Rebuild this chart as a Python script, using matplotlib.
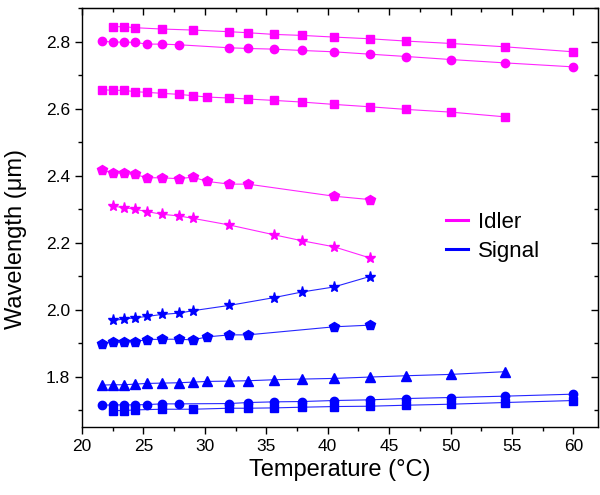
import matplotlib
matplotlib.use("Agg")
import matplotlib.pyplot as plt
from matplotlib.lines import Line2D
from matplotlib.ticker import MultipleLocator

plt.rcParams['font.family'] = ['Liberation Sans', 'DejaVu Sans']

PINK = "#ff00ff"
BLUE = "#0000ff"

# temperatures (deg C) for each curve
t_sq = [22.5, 23.4, 24.3, 26.5, 29.0, 32.0, 33.5, 35.6, 37.9, 40.5, 43.4, 46.4, 50.0, 54.4, 60.0]
t_ci = [21.6, 22.5, 23.4, 24.3, 25.3, 26.5, 27.9, 32.0, 33.5, 35.6, 37.9, 40.5, 43.4, 46.4, 50.0, 54.4, 60.0]
t_sq2 = [21.6, 22.5, 23.4, 24.3, 25.3, 26.5, 27.9, 29.0, 30.2, 32.0, 33.5, 35.6, 37.9, 40.5, 43.4, 46.4, 50.0, 54.4]
t_pent = [21.6, 22.5, 23.4, 24.3, 25.3, 26.5, 27.9, 29.0, 30.2, 32.0, 33.5, 40.5, 43.4]
t_star = [22.5, 23.4, 24.3, 25.3, 26.5, 27.9, 29.0, 32.0, 35.6, 37.9, 40.5, 43.4]

# idler wavelengths (um)
idl_sq = [2.845, 2.845, 2.842, 2.838, 2.835, 2.830, 2.827, 2.822, 2.819, 2.814, 2.809, 2.802, 2.795, 2.785, 2.770]
idl_ci = [2.802, 2.799, 2.799, 2.798, 2.793, 2.793, 2.791, 2.782, 2.780, 2.778, 2.774, 2.770, 2.763, 2.756, 2.747, 2.737, 2.725]
idl_sq2 = [2.657, 2.655, 2.655, 2.651, 2.649, 2.646, 2.643, 2.639, 2.635, 2.632, 2.629, 2.625, 2.620, 2.613, 2.606, 2.598, 2.590, 2.576]
idl_pent = [2.416, 2.409, 2.407, 2.404, 2.394, 2.394, 2.391, 2.396, 2.383, 2.375, 2.375, 2.339, 2.329]
idl_star = [2.309, 2.305, 2.300, 2.293, 2.285, 2.280, 2.273, 2.253, 2.224, 2.206, 2.188, 2.155]

# signal wavelengths (um)
sig_star = [1.968, 1.972, 1.976, 1.980, 1.986, 1.990, 1.997, 2.013, 2.036, 2.053, 2.068, 2.099]
sig_pent = [1.899, 1.903, 1.903, 1.905, 1.911, 1.912, 1.912, 1.910, 1.919, 1.925, 1.925, 1.949, 1.954]
sig_tri = [1.775, 1.776, 1.776, 1.778, 1.780, 1.781, 1.782, 1.784, 1.786, 1.787, 1.788, 1.791, 1.793, 1.795, 1.799, 1.803, 1.807, 1.815]
sig_ci = [1.715, 1.716, 1.716, 1.716, 1.717, 1.719, 1.719, 1.720, 1.723, 1.725, 1.726, 1.729, 1.731, 1.735, 1.738, 1.742, 1.748]
sig_sq = [1.699, 1.699, 1.701, 1.703, 1.703, 1.706, 1.706, 1.707, 1.709, 1.711, 1.712, 1.715, 1.718, 1.723, 1.729]

fig = plt.figure(figsize=(6, 4.95), dpi=100)
ax = fig.add_axes([0.1367, 0.1374, 0.86, 0.8459])

def curve(t, w, color, marker, ms):
    ax.plot(t, w, color=color, lw=0.8, alpha=0.85, zorder=1)
    ax.plot(t, w, ls="none", marker=marker, ms=ms, color=color, mec=color, zorder=2)

curve(t_sq, idl_sq, PINK, "s", 5.5)
curve(t_ci, idl_ci, PINK, "o", 6)
curve(t_sq2, idl_sq2, PINK, "s", 5.5)
curve(t_pent, idl_pent, PINK, "p", 7)
curve(t_star, idl_star, PINK, "*", 8)

curve(t_star, sig_star, BLUE, "*", 8)
curve(t_pent, sig_pent, BLUE, "p", 7)
curve(t_sq2, sig_tri, BLUE, "^", 6.5)
curve(t_ci, sig_ci, BLUE, "o", 6)
curve(t_sq, sig_sq, BLUE, "s", 5.5)

ax.set_xlim(20, 62)
ax.set_ylim(1.65, 2.9)
ax.xaxis.set_major_locator(MultipleLocator(5))
ax.xaxis.set_minor_locator(MultipleLocator(2.5))
ax.yaxis.set_major_locator(MultipleLocator(0.2))
ax.yaxis.set_minor_locator(MultipleLocator(0.1))
ax.tick_params(which="both", direction="out", width=1.0, labelsize=12.5)
ax.tick_params(which="major", length=5)
ax.tick_params(which="minor", length=3)
for s in ax.spines.values():
    s.set_linewidth(1.0)

# mirrored ticks pointing inward on top and right
top = ax.secondary_xaxis("top")
top.xaxis.set_major_locator(MultipleLocator(5))
top.xaxis.set_minor_locator(MultipleLocator(2.5))
top.tick_params(which="both", direction="in", labeltop=False, width=1.0)
top.tick_params(which="major", length=5)
top.tick_params(which="minor", length=3)
right = ax.secondary_yaxis("right")
right.yaxis.set_major_locator(MultipleLocator(0.2))
right.yaxis.set_minor_locator(MultipleLocator(0.1))
right.tick_params(which="both", direction="in", labelright=False, width=1.0)
right.tick_params(which="major", length=5)
right.tick_params(which="minor", length=3)

ax.set_xlabel("Temperature (\u00b0C)", fontsize=17)
ax.set_ylabel("Wavelength (\u03bcm)", fontsize=17)
ax.yaxis.set_label_coords(-0.107, 0.45)

handles = [Line2D([], [], color=PINK, lw=2.2), Line2D([], [], color=BLUE, lw=2.2)]
ax.legend(handles, ["Idler", "Signal"], loc="center left", bbox_to_anchor=(0.705, 0.454),
          frameon=False, fontsize=16, handlelength=1.0, handletextpad=0.45,
          borderpad=0, borderaxespad=0, labelspacing=0.35)

fig.savefig("out.png", dpi=100)
